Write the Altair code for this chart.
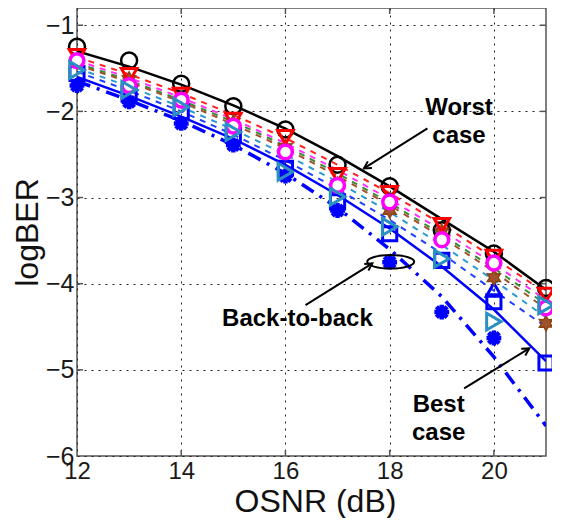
import math
import altair as alt
import pandas as pd

# ---------------- data ----------------
osnr = [12, 13, 14, 15, 16, 17, 18, 19, 20, 21]

black_pts = [-1.25, -1.41, -1.68, -1.94, -2.21, -2.62, -2.87, -3.38, -3.65, -4.05]
red_pts = [-1.36, -1.58, -1.81, -2.10, -2.30, -2.74, -2.95, -3.32, -3.69, -4.13]
brown_pts = [-1.42, -1.63, -1.86, -2.13, -2.42, -2.85, -3.15, -3.40, -3.93, -4.46]
magenta_pts = [-1.41, -1.70, -1.87, -2.17, -2.47, -2.86, -3.05, -3.49, -3.76, -4.28]
teal_pts = [-1.52, -1.75, -1.95, -2.24, -2.70, -2.99, -3.34, -3.71, -4.44, -4.25]
bluesq_pts = [-1.56, -1.80, -2.00, -2.28, -2.66, -3.05, -3.42, -3.73, -4.21, -4.92]
b2b_x = [12, 13, 14, 15, 16, 17, 18, 19, 20]
b2b_pts = [-1.70, -1.89, -2.14, -2.39, -2.75, -3.15, -3.75, -4.33, -4.63]
blueup_x = [20]
blueup_pts = [-4.07]

black_fit = [-1.30, -1.48, -1.69, -1.93, -2.20, -2.52, -2.87, -3.25, -3.63, -4.07]
red_fit = [-1.37, -1.57, -1.79, -2.04, -2.31, -2.62, -2.95, -3.31, -3.70, -4.11]
magenta_fit = [-1.41, -1.61, -1.84, -2.09, -2.37, -2.68, -3.02, -3.38, -3.77, -4.19]
green_fit = [-1.44, -1.64, -1.87, -2.12, -2.40, -2.72, -3.06, -3.43, -3.82, -4.24]
brown_fit = [-1.46, -1.66, -1.89, -2.15, -2.43, -2.75, -3.09, -3.46, -3.86, -4.29]
teal_fit = [-1.50, -1.71, -1.95, -2.21, -2.50, -2.82, -3.17, -3.55, -3.96, -4.39]
bluedash_fit = [-1.54, -1.76, -2.00, -2.27, -2.57, -2.90, -3.26, -3.65, -4.08, -4.50]
blue_fit = [-1.60, -1.82, -2.06, -2.32, -2.62, -2.97, -3.36, -3.80, -4.30, -4.90]
b2b_fit = [-1.65, -1.87, -2.11, -2.39, -2.72, -3.12, -3.60, -4.15, -4.85, -5.65]

x_ticks = [12, 14, 16, 18, 20]
y_ticks = [-6, -5, -4, -3, -2, -1]

ann_text = ["Worst", "case", "Back-to-back", "Best", "case"]
ann_x = [19.33, 19.33, 16.23, 18.94, 18.94]
ann_y = [-2.044, -2.372, -4.492, -5.486, -5.814]

arrow_x1 = [18.725, 16.385, 19.429]
arrow_y1 = [-2.198, -4.248, -5.215]
arrow_x2 = [17.506, 17.667, 20.679]
arrow_y2 = [-2.662, -3.765, -4.751]

ellipse_x = [18.02]
ellipse_y = [-3.746]

# ---------------- layout / styles ----------------
W, H = 469, 448
XD = [12, 21]
YD = [-6, -0.8]
FONT = "Liberation Sans"

xaxis = alt.Axis(values=x_ticks, grid=True, gridDash=[2, 5], gridColor="#222", gridOpacity=1,
                 gridWidth=1, domain=False, ticks=False, labelFontSize=24, labelFont=FONT,
                 labelColor="#1a1a1a", labelPadding=3, labelFlush=False, labelOverlap=False,
                 title="OSNR (dB)", titleFontSize=32, titleFont=FONT, titleFontWeight="normal",
                 titleColor="#111", titleX=238, titleY=55, titleBaseline="alphabetic",
                 titleAlign="center")
yaxis = alt.Axis(values=y_ticks, grid=True, gridDash=[2, 5], gridColor="#222", gridOpacity=1,
                 gridWidth=1, domain=False, ticks=False, labelFontSize=25, labelFont=FONT,
                 labelColor="#1a1a1a", labelPadding=3, labelFlush=False, labelOverlap=False,
                 format="d", title="logBER", titleFontSize=32, titleFont=FONT,
                 titleFontWeight="normal", titleColor="#111", titleX=-40, titleY=224,
                 titleBaseline="alphabetic", titleAlign="center", titleAngle=270)

X = alt.X("x:Q", scale=alt.Scale(domain=XD, nice=False, zero=False), axis=xaxis)
Y = alt.Y("y:Q", scale=alt.Scale(domain=YD, nice=False, zero=False), axis=yaxis)


def df(xv, yv):
    return pd.DataFrame({"x": xv, "y": yv})


def line(yv, color, width, dash=None):
    kw = dict(color=color, strokeWidth=width, clip=True)
    if dash:
        kw["strokeDash"] = dash
    return alt.Chart(df(osnr, yv)).mark_line(**kw).encode(x=X, y=Y)


def pts(xv, yv, shape, size, stroke, fill="transparent", sw=2.5):
    return alt.Chart(df(xv, yv)).mark_point(shape=shape, size=size, stroke=stroke, fill=fill,
                                            strokeWidth=sw, opacity=1, fillOpacity=1,
                                            strokeOpacity=1).encode(x=X, y=Y)


# custom symbol paths
asterisk = "M-1,0L1,0M0,-1L0,1M-0.72,-0.72L0.72,0.72M-0.72,0.72L0.72,-0.72"
hexa = []
for k in range(12):
    r = 1.0 if k % 2 == 0 else 0.55
    a = math.pi / 2 + k * math.pi / 6
    hexa.append(f"{r*math.cos(a):.3f},{-r*math.sin(a):.3f}")
hexagram = "M" + "L".join(hexa) + "Z"
ellipse = "M-1,0A1,0.29,0,1,0,1,0A1,0.29,0,1,0,-1,0Z"
arrowhead = "M-1,-0.55L0,0L-1,0.55"

# inward tick marks
tb = alt.Chart(pd.DataFrame({"x": x_ticks[1:]})).mark_rule(color="#555", strokeWidth=1.5).encode(
    x=X, y=alt.value(H), y2=alt.value(H - 6))
tt = alt.Chart(pd.DataFrame({"x": x_ticks[1:]})).mark_rule(color="#555", strokeWidth=1.5).encode(
    x=X, y=alt.value(0), y2=alt.value(6))
tl = alt.Chart(pd.DataFrame({"y": y_ticks[1:]})).mark_rule(color="#555", strokeWidth=1.5).encode(
    y=Y, x=alt.value(0), x2=alt.value(6))
tr = alt.Chart(pd.DataFrame({"y": y_ticks[1:]})).mark_rule(color="#555", strokeWidth=1.5).encode(
    y=Y, x=alt.value(W), x2=alt.value(W - 6))

layers = [tb, tt, tl, tr,
          line(red_fit, "#ff2020", 2, [6, 6]),
          line(magenta_fit, "#ff30ff", 2, [6, 6]),
          line(green_fit, "#3a8a3a", 2, [6, 6]),
          line(brown_fit, "#a0522d", 2, [6, 6]),
          line(teal_fit, "#2a9ad0", 2, [6, 6]),
          line(bluedash_fit, "#2040ff", 2, [6, 6]),
          line(b2b_fit, "#0000ff", 3.5, [14, 7, 3, 7]),
          line(blue_fit, "#0000ff", 2.5),
          line(black_fit, "#000000", 2.5),
          pts(osnr, black_pts, "circle", 256, "#000000", sw=2.5),
          pts(b2b_x, b2b_pts, asterisk, 220, "#0000ff", sw=4.5),
          pts(osnr, bluesq_pts, "square", 200, "#0000ff", sw=3),
          pts(blueup_x, blueup_pts, "triangle-up", 230, "#0000ff", sw=3),
          pts(osnr, brown_pts, hexagram, 230, "#8b4513", fill="#a0522d", sw=1.5),
          pts(osnr, red_pts, "triangle-down", 240, "#ff0000", sw=3),
          pts(osnr, magenta_pts, "circle", 190, "#ff00ff", fill="white", sw=3.5),
          pts(osnr, teal_pts, "triangle-right", 280, "#2a90c2", sw=3),
          ]

# ellipse around the back-to-back point
layers.append(pts(ellipse_x, ellipse_y, ellipse, 2200, "#000000", sw=2))

# arrows
arr = pd.DataFrame({"x": arrow_x1, "y": arrow_y1, "x2": arrow_x2, "y2": arrow_y2})
sx = W / (XD[1] - XD[0])
sy = H / (YD[1] - YD[0])
arr["ang"] = [(math.degrees(math.atan2(-(b2 - b1) * sy, (a2 - a1) * sx))) % 360
              for a1, b1, a2, b2 in zip(arrow_x1, arrow_y1, arrow_x2, arrow_y2)]
layers.append(alt.Chart(arr).mark_rule(color="#000000", strokeWidth=2).encode(
    x=X, y=Y, x2="x2:Q", y2="y2:Q"))
heads = pd.DataFrame({"x": arrow_x2, "y": arrow_y2, "ang": arr["ang"]})
layers.append(alt.Chart(heads).mark_point(shape=arrowhead, size=200, stroke="#000000", fill="transparent",
                                          strokeWidth=2, opacity=1).encode(
    x=X, y=Y, angle=alt.Angle("ang:Q", scale=None)))

# annotation text
ann = pd.DataFrame({"x": ann_x, "y": ann_y, "t": ann_text})
layers.append(alt.Chart(ann).mark_text(font=FONT, fontSize=24, fontWeight="bold", color="#000000",
                                       align="center", baseline="alphabetic").encode(
    x=X, y=Y, text="t:N"))

chart = alt.layer(*layers).properties(
    width=W, height=H,
    autosize=alt.AutoSizeParams(type="none"),
    padding={"left": 69, "top": 0, "right": 6, "bottom": 62},
    background="white",
).configure_view(stroke="#555", strokeWidth=1.5)

chart.save("out.html", embed_options={"renderer": "svg", "actions": False})
